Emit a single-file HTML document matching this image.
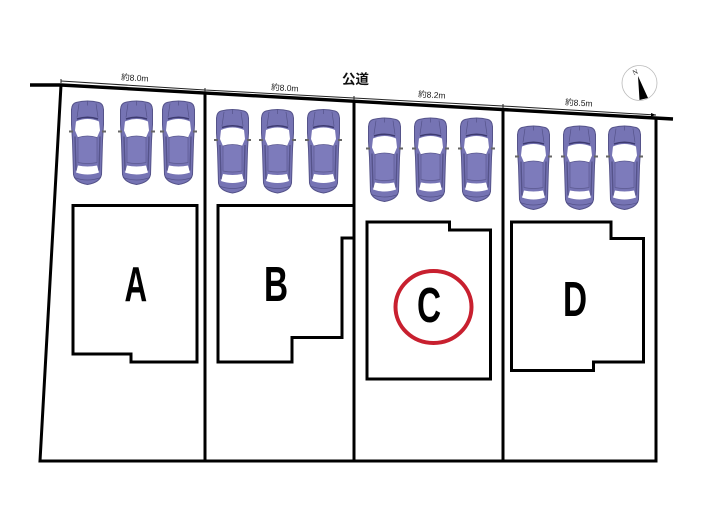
<!DOCTYPE html>
<html><head><meta charset="utf-8"><style>
html,body{margin:0;padding:0;background:#fff;width:705px;height:525px;overflow:hidden}
svg{display:block}
.d{font:8.5px "Liberation Sans","Noto Sans CJK JP",sans-serif;fill:#222}
.L{font:bold 49px "Liberation Sans",sans-serif;fill:#000}
</style></head><body>
<svg width="705" height="525" viewBox="0 0 705 525" xmlns="http://www.w3.org/2000/svg">
<defs>
<g id="car">
<path d="M5 2Q16.5 -1 28 2Q32 3 32.5 9L32.5 24Q32 32 31.5 40L30.5 74Q29 82 16.5 84Q4 82 2.5 74L1.5 40Q1 32 .5 24L.5 9Q1 3 5 2Z" fill="#7674b4" stroke="#55538a" stroke-width="1"/>
<path d="M5 21Q16.5 16 28 21L29 30L26 37Q16.5 34 7 37L4 30Z" fill="#fff"/>
<path d="M6 18.5Q16.5 15 27 18.5" fill="none" stroke="#3d3b70" stroke-width="1.6"/>
<path d="M7 37Q16.5 34 26 37L26 62Q16.5 64 7 62Z" fill="#7d7bbb" stroke="#5c5a90" stroke-width=".7"/>
<path d="M7 65Q16.5 67 26 65L28 72Q16.5 76 5 72Z" fill="#fff"/>
<path d="M4 36L5 70M29 36L28 70" stroke="#55538a" stroke-width="1.4" fill="none"/>
<path d="M8 3L6 17M25 3L27 17M16.5 1V5" stroke="#55538a" stroke-width=".7" fill="none"/>
<path d="M3 77Q16.5 82 30 77" stroke="#55538a" stroke-width=".7" fill="none"/>
<rect x="-2" y="30" width="4" height="2" fill="#666"/><rect x="31" y="30" width="4" height="2" fill="#666"/>
</g>
</defs>

<use href="#car" x="71" y="100.5"/><use href="#car" x="120" y="100.5"/><use href="#car" x="162" y="100.5"/>
<use href="#car" x="216" y="109"/><use href="#car" x="261" y="109"/><use href="#car" x="307" y="109"/>
<use href="#car" x="368" y="117.5"/><use href="#car" x="414" y="117.5"/><use href="#car" x="460" y="117.5"/>
<use href="#car" x="517" y="125.5"/><use href="#car" x="563" y="125.5"/><use href="#car" x="608" y="125.5"/>

<g fill="none" stroke="#000" stroke-width="3">
<path d="M30 85H61L673 119" stroke-width="3.4"/>
<path d="M61 85L40 461H656V118" />
<path d="M205 94V461M354 102V461M503 110V461"/>
<path d="M73 205.5H197V362H131V354H73Z"/>
<path d="M218 205.5H354V238H342V337.5H292V362H218Z"/>
<path d="M367 222H449.5V230H490.5V379H367Z"/>
<path d="M511.5 222H611V238.5H643.5V362H593.5V370.5H511.5Z"/>
</g>
<ellipse cx="433.5" cy="307" rx="38" ry="36" fill="none" stroke="#c8202f" stroke-width="4"/>

<g stroke="#222" stroke-width="1" fill="none">
<path d="M61 81L205 90M205 90L354 98M354 98L503 106M503 106L656 115"/>
<path d="M61 79V83M205 88V92M354 96V100M503 104V108"/>
</g>
<path d="M656 115l-5 -2v3.5Z" fill="#000"/>

<text class="d" transform="translate(121 80) rotate(3.2)">約8.0m</text>
<text class="d" transform="translate(271 90) rotate(3.2)">約8.0m</text>
<text class="d" transform="translate(418 97) rotate(3.2)">約8.2m</text>
<text class="d" transform="translate(565 105) rotate(3.2)">約8.5m</text>
<text x="342" y="84" style="font:bold 13.5px 'Liberation Sans','Noto Sans CJK JP',sans-serif" fill="#111">公道</text>

<circle cx="639.5" cy="83" r="17.5" fill="#fff" stroke="#bbb" stroke-width=".8"/>
<path d="M638 76L648 98L639.5 100Z" fill="#000"/>
<text x="632" y="74" transform="rotate(-22 636 70)" style="font:7px 'Liberation Serif',serif" fill="#222">N</text>

<g class="L">
<text class="L" transform="translate(124.5 301) scale(.64 1)">A</text>
<text class="L" transform="translate(264 301) scale(.68 1)">B</text>
<text class="L" transform="translate(417 322) scale(.68 1)">C</text>
<text class="L" transform="translate(563 316) scale(.68 1)">D</text>
</g>
</svg>
</body></html>
